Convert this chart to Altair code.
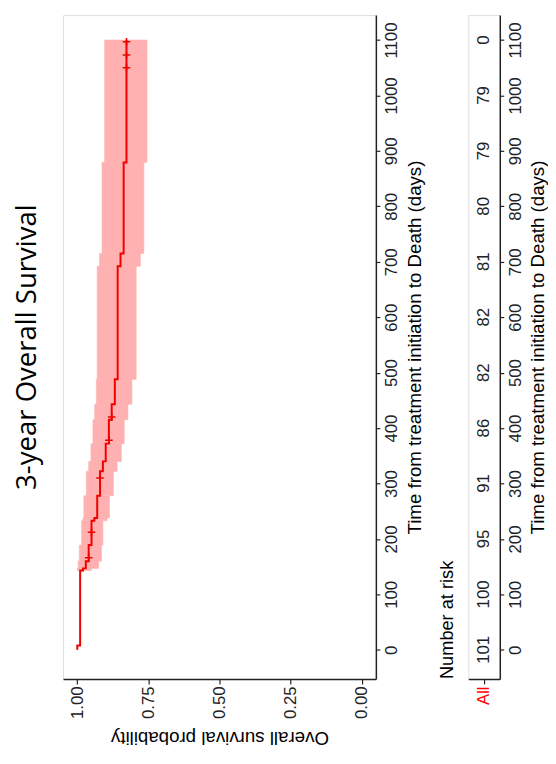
import altair as alt
import pandas as pd

# Kaplan-Meier steps (time in days, survival after the step)
step_time = [0, 8, 143, 147, 160, 189, 233, 238, 278, 322, 340, 372, 415, 443, 488, 692, 715, 879, 1100]
step_surv = [1.000, 0.990, 0.980, 0.970, 0.960, 0.950, 0.940, 0.930, 0.920, 0.910, 0.900, 0.889,
             0.879, 0.868, 0.858, 0.848, 0.837, 0.827, 0.827]
step_lower = [1.000, 0.990, 0.950, 0.925, 0.915, 0.910, 0.895, 0.887, 0.873, 0.860, 0.845, 0.835,
              0.822, 0.808, 0.793, 0.778, 0.766, 0.755, 0.755]
step_upper = [1.000, 0.990, 1.000, 0.997, 0.993, 0.985, 0.980, 0.977, 0.968, 0.960, 0.952, 0.945,
              0.939, 0.933, 0.930, 0.922, 0.913, 0.904, 0.904]

# censored observations
censor_time = [166, 212, 310, 378, 420, 1050, 1073, 1097]
censor_surv = [0.960, 0.950, 0.920, 0.889, 0.879, 0.827, 0.827, 0.827]

# number at risk table
risk_time = [0, 100, 200, 300, 400, 500, 600, 700, 800, 900, 1000, 1100]
risk_n = [101, 100, 95, 91, 86, 82, 82, 81, 80, 79, 79, 0]
risk_group = ["All"] * len(risk_time)

time_ticks = [0, 100, 200, 300, 400, 500, 600, 700, 800, 900, 1000, 1100]
prob_ticks = [0, 0.25, 0.5, 0.75, 1.0]

# expand the steps into explicit corner points for the survival line
seg_t, seg_s = [], []
for i in range(len(step_time)):
    if i > 0:
        seg_t.append(step_time[i]); seg_s.append(step_surv[i - 1])
    seg_t.append(step_time[i]); seg_s.append(step_surv[i])
seg_df = pd.DataFrame({"t": seg_t, "s": seg_s, "idx": list(range(len(seg_t)))})

# confidence band: one block per interval between events
band_df = pd.DataFrame({
    "t0": step_time[:-1], "t1": step_time[1:],
    "lo": step_lower[:-1], "hi": step_upper[:-1],
})
cens_df = pd.DataFrame({"t": censor_time, "s": censor_surv})
risk_df = pd.DataFrame({"t": risk_time, "n": risk_n, "g": risk_group})

FONT = "Liberation Sans"
H = 675
xscale = alt.Scale(domain=[-0.05, 1.05], reverse=True, nice=False, zero=False)
yscale = alt.Scale(domain=[-52.6, 1145], nice=False, zero=False)

def time_axis(tx):
    return alt.Axis(
        orient="right", values=time_ticks, format="d", grid=False,
        labelAngle=270, labelAlign="center", labelBaseline="top",
        labelFontSize=17, labelFont=FONT, labelColor="#222", labelPadding=4,
        tickSize=4, tickColor="#222", domainColor="#222", domainWidth=1.5, tickWidth=1.2,
        title="Time from treatment initiation to Death (days)",
        titleAngle=270, titleBaseline="middle", titleAlign="center",
        titleX=tx, titleY=H / 2, titleFontSize=19, titleFont=FONT,
        titleFontWeight="normal", titleColor="black",
    )

prob_axis = alt.Axis(
    orient="bottom", values=prob_ticks, format=".2f", grid=False,
    labelAngle=270, labelAlign="right", labelBaseline="middle",
    labelFontSize=17, labelFont=FONT, labelColor="#222", labelPadding=2,
    tickSize=5, tickColor="#222", domainColor="#222", domainWidth=1.5, tickWidth=1.2,
    title="Overall survival probability",
    titleAngle=180, titleBaseline="middle", titleAlign="center",
    titleY=59, titleFontSize=19, titleFont=FONT, titleFontWeight="normal", titleColor="black",
)

band = alt.Chart(band_df).mark_rect(
    color="#FFB0B0", opacity=1, stroke="#FFB0B0", strokeWidth=0.6
).encode(
    y=alt.Y("t0:Q", scale=yscale, axis=time_axis(39)),
    y2="t1:Q",
    x=alt.X("lo:Q", scale=xscale, axis=prob_axis),
    x2="hi:Q",
)

line = alt.Chart(seg_df).mark_line(
    interpolate="linear", color="#F20000", strokeWidth=2
).encode(
    y=alt.Y("t:Q", scale=yscale),
    x=alt.X("s:Q", scale=xscale),
    order=alt.Order("idx:Q"),
)

cens = alt.Chart(cens_df).mark_point(
    shape="M-1,0H1M0,-1V1", filled=False, color="#F20000", strokeWidth=1.6, size=60, opacity=1
).encode(
    y=alt.Y("t:Q", scale=yscale),
    x=alt.X("s:Q", scale=xscale),
)

main = alt.layer(band, line, cens).properties(
    width=318, height=H,
    title=alt.TitleParams(
        "3-year Overall Survival", orient="left", anchor="middle",
        fontSize=28, font="Open Sans", fontWeight="normal", color="black", offset=22,
    ),
)

risk = alt.Chart(risk_df).mark_text(
    angle=270, fontSize=17, font=FONT, color="#222", align="center", baseline="middle"
).encode(
    y=alt.Y("t:Q", scale=yscale, axis=time_axis(38)),
    x=alt.X("g:N", axis=alt.Axis(
        orient="bottom", title=None, labelAngle=270, labelAlign="right", labelBaseline="middle",
        labelColor="red", labelFontSize=17, labelFont=FONT, labelPadding=2,
        tickSize=5, tickColor="#222", domainColor="#222", domainWidth=1.5, tickWidth=1.2,
    )),
    text="n:Q",
).properties(
    width=32, height=H,
    title=alt.TitleParams(
        "Number at risk", orient="left", anchor="start", frame="group",
        fontSize=18.5, font=FONT, fontWeight="normal", color="black", offset=12,
    ),
)

chart = alt.hconcat(main, risk, spacing=94, bounds="flush").properties(
    padding={"left": 5, "top": 0, "right": 0, "bottom": 0}
).configure_view(stroke=None).configure(background="white")

chart.save("out.html", embed_options={"renderer": "svg", "actions": False})
